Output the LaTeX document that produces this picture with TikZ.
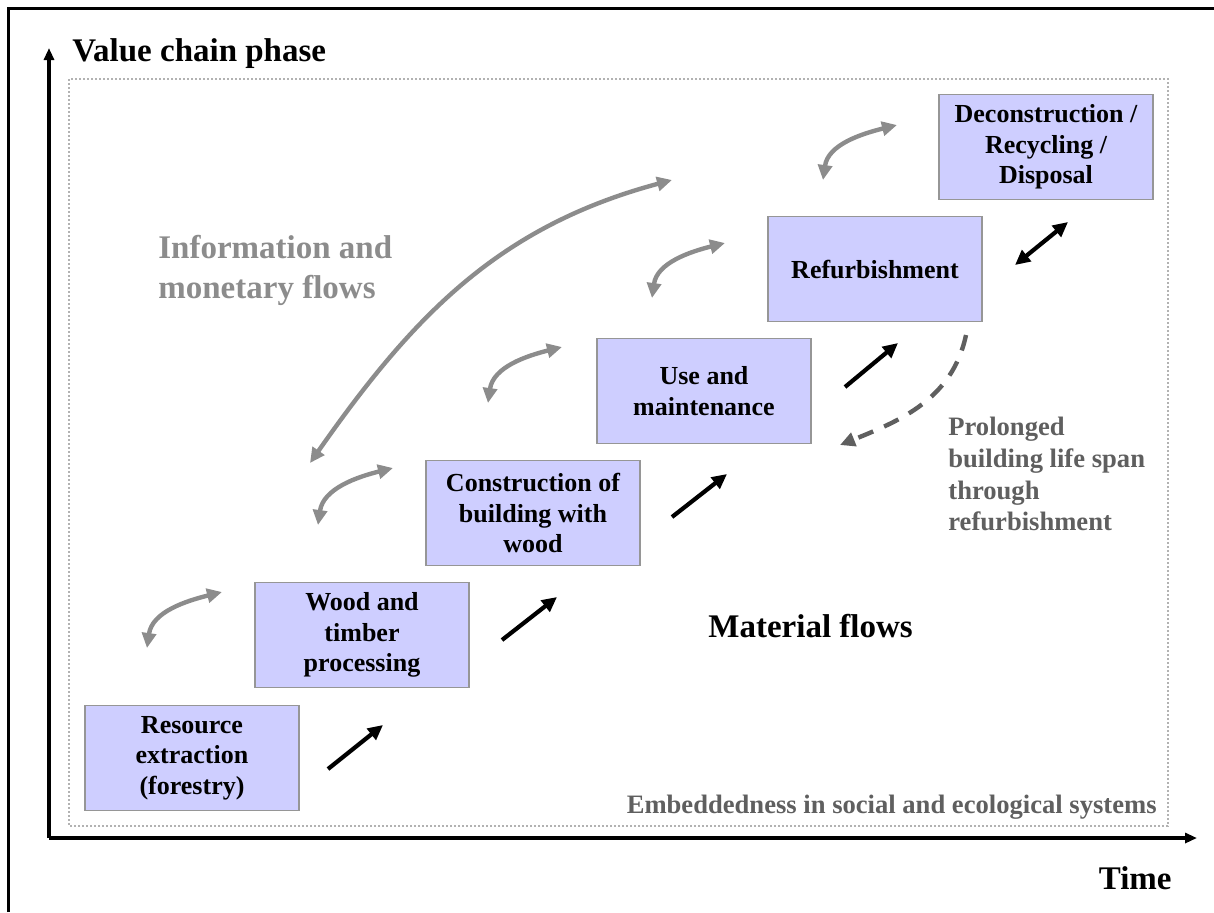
\documentclass[tikz,border=0pt]{standalone}
\usepackage{fontspec}
\setmainfont{Liberation Serif}
\usepackage{tikz}
\usetikzlibrary{arrows.meta, calc, positioning}
\definecolor{phasefill}{RGB}{206,206,255}
\definecolor{phaseline}{RGB}{150,150,150}
\definecolor{infogray}{RGB}{140,140,140}
\definecolor{notegray}{RGB}{95,95,95}
\tikzset{%
	phase/.style={%
		rectangle,
		fill=phasefill,
		draw=phaseline, line width=0.6pt,
		minimum width=107pt,
		minimum height=52.5pt,
		inner sep=0pt,
		align=center,
		font=\fontsize{13}{15.3}\selectfont\bfseries,
	},
	matflow/.style={%
		->,
		>={Triangle[length=7.5pt,width=7pt]},
		line width=2.1pt,
	},
	infoflow/.style={%
		<->,
		>={Triangle[length=7.5pt,width=7pt]},
		draw=infogray,
		line width=2.2pt,
	},
	lifespan/.style={%
		->,
		>={Triangle[length=7.5pt,width=7pt]},
		draw=notegray,
		line width=2.2pt,
		dash pattern=on 8pt off 6pt,
	},
	axis/.style={%
		->,
		>={Triangle[length=6pt,width=5pt]},
		line width=1.8pt,
	},
	biglabel/.style={%
		inner sep=0pt,
		align=left,
		font=\fontsize{16.5}{20}\selectfont\bfseries,
	},
	notelabel/.style={%
		inner sep=0pt,
		align=left,
		text=notegray,
		font=\fontsize{13.3}{15.8}\selectfont\bfseries,
	},
}

\begin{document}
\begin{tikzpicture}[x=0.5pt, y=0.5pt]
	\useasboundingbox (0,0) rectangle (1214,-912);
	% frame and axes
	\draw[line width=1.5pt] (8,-912) -- (8,-8) -- (1214,-8);
	\coordinate (origin) at (49,-838);
	\coordinate (y_end) at (49,-48);
	\coordinate (x_end) at (1197,-838);
	\draw[axis] (origin) -- (y_end);
	\draw[axis] (origin) -- (x_end);
	\draw[draw=gray!60, line width=1pt, dash pattern=on 1pt off 1pt] (69,-79) rectangle (1168,-826);

	\node[biglabel, anchor=base west] (y_label) at (72,-61) {Value chain phase};
	\node[biglabel, anchor=base east] (x_label) at (1172,-889) {Time};

	% value chain phases
	\node[phase] at (192,-758) (res_ext) {Resource\\extraction\\(forestry)};
	\node[phase] at (362,-635) (wood_proc) {Wood and\\timber\\processing};
	\node[phase] at (533,-513) (constr) {Construction of\\building with\\wood};
	\node[phase] at (704,-391) (use_maint) {Use and\\maintenance};
	\node[phase] at (875,-269) (refurb) {Refurbishment};
	\node[phase] at (1046,-147) (decon) {Deconstruction /\\Recycling /\\Disposal};

	\node[biglabel, text=infogray, anchor=north west] (info_label) at (158,-235) {Information and\\monetary flows};
	\node[biglabel, anchor=base west] (mat_label) at (708,-637) {Material flows};
	\node[notelabel, anchor=north west] (life_label) at (948,-417) {Prolonged\\building life span\\through\\refurbishment};
	\node[notelabel, anchor=base east] (embed_label) at (1157,-813) {Embeddedness in social and ecological systems};

	% material flows
	\coordinate (mat1_a) at (328,-769);
	\coordinate (mat1_b) at (383,-725);
	\coordinate (mat2_a) at (502,-640);
	\coordinate (mat2_b) at (557,-597);
	\coordinate (mat3_a) at (672,-517);
	\coordinate (mat3_b) at (727,-474);
	\coordinate (mat4_a) at (845,-387);
	\coordinate (mat4_b) at (898,-343);
	\coordinate (mat5_a) at (1015,-265);
	\coordinate (mat5_b) at (1068,-222);
	\draw[matflow] (mat1_a) -- (mat1_b);
	\draw[matflow] (mat2_a) -- (mat2_b);
	\draw[matflow] (mat3_a) -- (mat3_b);
	\draw[matflow] (mat4_a) -- (mat4_b);
	\draw[matflow, <->] (mat5_a) -- (mat5_b);

	% information and monetary flows
	\coordinate (info1_a) at (147,-648);
	\coordinate (info1_b) at (222,-592);
	\coordinate (info2_a) at (318,-525);
	\coordinate (info2_b) at (393,-468);
	\coordinate (info3_a) at (488,-403);
	\coordinate (info3_b) at (562,-347);
	\coordinate (info4_a) at (652,-298);
	\coordinate (info4_b) at (725,-243);
	\coordinate (info5_a) at (823,-180);
	\coordinate (info5_b) at (897,-125);
	\coordinate (info_all_a) at (310,-463);
	\coordinate (info_all_b) at (672,-180);
	\draw[infoflow] (info1_a) to[out=82, in=194] (info1_b);
	\draw[infoflow] (info2_a) to[out=82, in=194] (info2_b);
	\draw[infoflow] (info3_a) to[out=82, in=194] (info3_b);
	\draw[infoflow] (info4_a) to[out=82, in=194] (info4_b);
	\draw[infoflow] (info5_a) to[out=82, in=194] (info5_b);
	\draw[infoflow] (info_all_a) to[out=55, in=195] (info_all_b);

	% prolonged life span
	\coordinate (life_a) at (966,-335);
	\coordinate (life_b) at (840,-445);
	\draw[lifespan] (life_a) to[out=258, in=22] (life_b);
\end{tikzpicture}
\end{document}
